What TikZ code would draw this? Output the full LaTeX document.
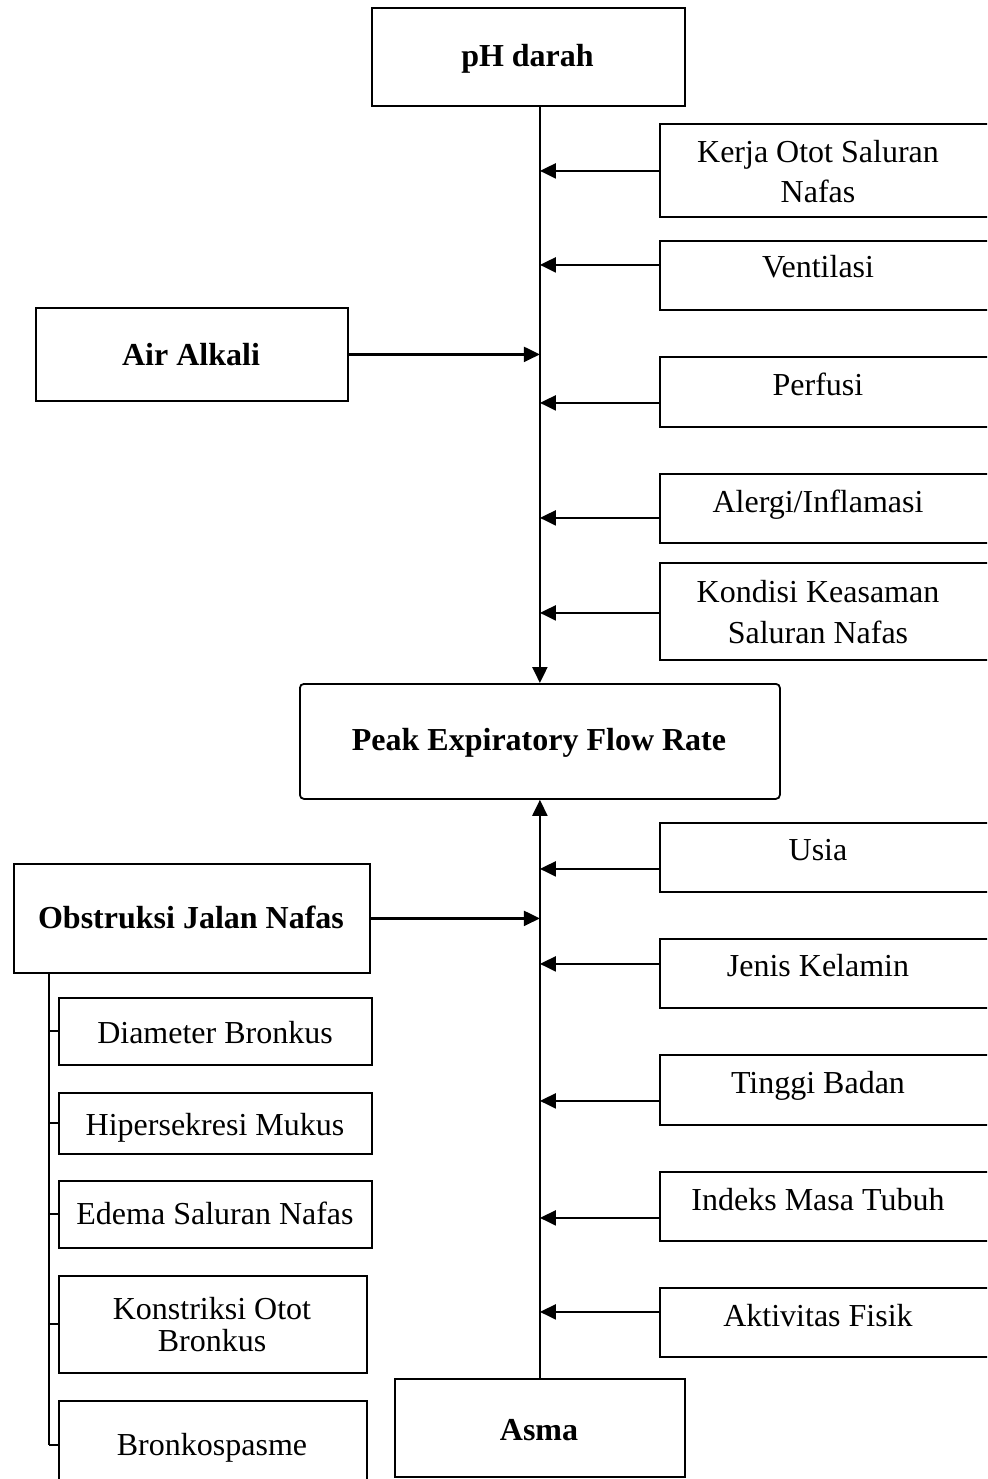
\documentclass[tikz,border=0pt]{standalone}
\usepackage{fontspec}
\setmainfont{Liberation Serif}
\usetikzlibrary{arrows.meta}
\begin{document}
\begin{tikzpicture}[x=1pt,y=-1pt,
  box/.style={draw, line width=1.8pt, inner sep=0pt, anchor=north west},
  lbl/.style={anchor=base, font=\fontsize{32}{40}\selectfont, inner sep=0pt, align=center},
  blbl/.style={lbl, font=\fontsize{32}{40}\selectfont\bfseries},
  arr/.style={line width=2.2pt, -{Triangle[length=16pt,width=15pt]}},
  ln/.style={line width=2pt}]
\useasboundingbox (0,0) rectangle (987,1479);
\clip (0,0) rectangle (987,1479);
% main column
\node[box, minimum width=313pt, minimum height=98pt] (ph) at (371,7) {};
\node[blbl] (pht) at (527.5,67) {pH darah};
\node[box, rounded corners=4pt, minimum width=480pt, minimum height=115pt] (pefr) at (299,683) {};
\node[blbl] (pefrt) at (539,750) {Peak Expiratory Flow Rate};
\node[box, minimum width=290pt, minimum height=98pt] (asma) at (394,1378) {};
\node[blbl] (asmat) at (539,1440) {Asma};
% left main boxes
\node[box, minimum width=312pt, minimum height=93pt] (air) at (35,307) {};
\node[blbl] (airt) at (191,365) {Air Alkali};
\node[box, minimum width=356pt, minimum height=109pt] (obs) at (13,863) {};
\node[blbl] (obst) at (191,928) {Obstruksi Jalan Nafas};
% right boxes (top)
\node[box, minimum width=340pt, minimum height=93pt] (kerja) at (659,123) {};
\node[lbl] (kerjat) at (818,203) {Kerja Otot Saluran\\Nafas};
\node[box, minimum width=340pt, minimum height=69pt] (vent) at (659,240) {};
\node[lbl] (ventt) at (818,277) {Ventilasi};
\node[box, minimum width=340pt, minimum height=70pt] (perf) at (659,356) {};
\node[lbl] (perft) at (818,395) {Perfusi};
\node[box, minimum width=340pt, minimum height=69pt] (alerg) at (659,473) {};
\node[lbl] (alergt) at (818,512) {Alergi/Inflamasi};
\node[box, minimum width=340pt, minimum height=97pt] (kond) at (659,562) {};
\node[lbl, font=\fontsize{32}{41}\selectfont] (kondt) at (818,643) {Kondisi Keasaman\\Saluran Nafas};
% right boxes (bottom)
\node[box, minimum width=340pt, minimum height=69pt] (usia) at (659,822) {};
\node[lbl] (usiat) at (818,860) {Usia};
\node[box, minimum width=340pt, minimum height=69pt] (jenis) at (659,938) {};
\node[lbl] (jenist) at (818,976) {Jenis Kelamin};
\node[box, minimum width=340pt, minimum height=70pt] (tinggi) at (659,1054) {};
\node[lbl] (tinggit) at (818,1093) {Tinggi Badan};
\node[box, minimum width=340pt, minimum height=69pt] (indeks) at (659,1171) {};
\node[lbl] (indekst) at (818,1210) {Indeks Masa Tubuh};
\node[box, minimum width=340pt, minimum height=69pt] (aktiv) at (659,1287) {};
\node[lbl] (aktivt) at (818,1326) {Aktivitas Fisik};
% sub boxes (left)
\node[box, minimum width=313pt, minimum height=67pt] (diam) at (58,997) {};
\node[lbl] (diamt) at (215,1043) {Diameter Bronkus};
\node[box, minimum width=313pt, minimum height=61pt] (hiper) at (58,1092) {};
\node[lbl] (hipert) at (215,1135) {Hipersekresi Mukus};
\node[box, minimum width=313pt, minimum height=67pt] (edema) at (58,1180) {};
\node[lbl] (edemat) at (215,1224) {Edema Saluran Nafas};
\node[box, minimum width=308pt, minimum height=97pt] (konst) at (58,1275) {};
\node[lbl, font=\fontsize{32}{32}\selectfont] (konstt) at (212,1351) {Konstriksi Otot\\Bronkus};
\node[box, minimum width=308pt, minimum height=88pt] (bronk) at (58,1400) {};
\node[lbl] (bronkt) at (212,1455) {Bronkospasme};
% spine arrows
\draw[arr] (pefr.north |- ph.south) -- (pefr.north);
\draw[arr] (asma.north) -- (pefr.south);
\draw[arr] (air.east) -- (air.east -| pefr.north);
\draw[arr] (obs.east) -- (obs.east -| pefr.north);
% right arrows
\draw[arr] (kerja.west) ++(0,0.5) coordinate (kerjaa) -- (kerjaa -| pefr.north);
\draw[arr] (vent.west) ++(0,-10.5) coordinate (venta) -- (venta -| pefr.north);
\draw[arr] (perf.west) ++(0,11) coordinate (perfa) -- (perfa -| pefr.north);
\draw[arr] (alerg.west) ++(0,9.5) coordinate (alerga) -- (alerga -| pefr.north);
\draw[arr] (kond.west) ++(0,1.5) coordinate (konda) -- (konda -| pefr.north);
\draw[arr] (usia.west) ++(0,11.5) coordinate (usiaa) -- (usiaa -| pefr.north);
\draw[arr] (jenis.west) ++(0,-9.5) coordinate (jenisa) -- (jenisa -| pefr.north);
\draw[arr] (tinggi.west) ++(0,11) coordinate (tinggia) -- (tinggia -| pefr.north);
\draw[arr] (indeks.west) ++(0,11.5) coordinate (indeksa) -- (indeksa -| pefr.north);
\draw[arr] (aktiv.west) ++(0,-10.5) coordinate (aktiva) -- (aktiva -| pefr.north);
% tree on the left
\coordinate (tr) at ([xshift=36pt]obs.south west);
\draw[ln] (tr) -- (tr |- bronk.west);
\foreach \n in {diam,hiper,edema,konst,bronk} \draw[ln] (tr |- \n.west) -- (\n.west);
\end{tikzpicture}
\end{document}
